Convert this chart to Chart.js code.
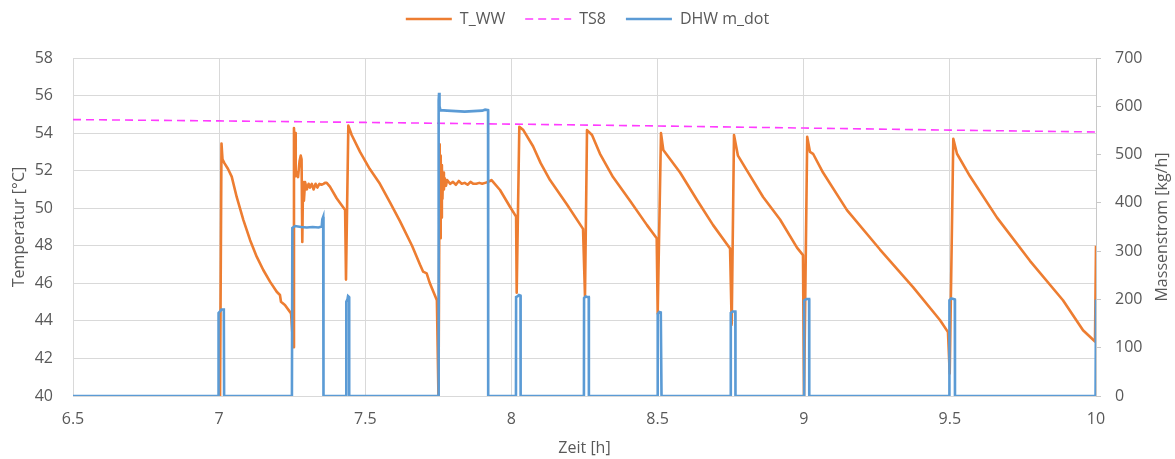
<!DOCTYPE html>
<html>
<head>
<meta charset="utf-8">
<script src="https://cdn.jsdelivr.net/npm/chart.js@4.4.1/dist/chart.umd.min.js"></script>
<style>
  html, body { margin: 0; padding: 0; background: #ffffff; }
  #wrap { width: 1175px; height: 459px; }
</style>
</head>
<body>
<div id="wrap"><canvas id="chart" width="1175" height="459"></canvas></div>
<script>
// Hot water outlet temperature T_WW [°C]
const wwHours = [
  7.003, 7.008, 7.0115, 7.018, 7.030, 7.043, 7.060, 7.083, 7.106, 7.1285, 7.151, 7.174, 7.197, 7.208, 7.2116, 7.225, 7.246,
  7.2535, 7.256, 7.258, 7.260, 7.262, 7.266, 7.270, 7.275, 7.279, 7.282, 7.2845, 7.287, 7.290, 7.294, 7.300, 7.306,
  7.311, 7.317, 7.323, 7.330, 7.336, 7.343, 7.350, 7.357, 7.362, 7.368, 7.379, 7.402, 7.431,
  7.434, 7.442, 7.4535, 7.482, 7.515, 7.550, 7.585, 7.619, 7.660, 7.687, 7.698, 7.710, 7.721, 7.745,
  7.7505, 7.7545, 7.756, 7.758, 7.760, 7.762, 7.764, 7.766, 7.769, 7.772, 7.776, 7.780, 7.790, 7.800, 7.810, 7.820,
  7.830, 7.840, 7.850, 7.860, 7.870, 7.880, 7.890, 7.900, 7.910, 7.920, 7.926, 7.932, 7.961, 7.995, 8.016,
  8.018, 8.027, 8.0407, 8.074, 8.100, 8.132, 8.190, 8.245,
  8.2517, 8.2586, 8.2757, 8.303, 8.3475, 8.4057, 8.4638, 8.497,
  8.5004, 8.5117, 8.5196, 8.577, 8.635, 8.690, 8.748,
  8.7536, 8.7615, 8.775, 8.806, 8.861, 8.919, 8.977, 8.9975,
  9.001, 9.012, 9.0215, 9.032, 9.066, 9.148, 9.261, 9.374, 9.466, 9.4936,
  9.4995, 9.5118, 9.5244, 9.569, 9.6613, 9.774, 9.887, 9.9556, 9.9966, 10.0
];
const wwTemp = [
  39.8, 53.45, 52.6, 52.4, 52.1, 51.68, 50.6, 49.37, 48.3, 47.42, 46.71, 46.09, 45.55, 45.38, 45.02, 44.85, 44.4,
  42.6, 54.27, 53.5, 54.0, 51.7, 51.9, 51.66, 52.5, 52.8, 52.6, 48.2, 51.4, 50.4, 51.4, 51.0, 51.3,
  51.1, 51.3, 51.0, 51.3, 51.1, 51.3, 51.25, 51.3, 51.35, 51.35, 51.15, 50.53, 49.9,
  46.2, 54.4, 53.9, 53.0, 52.1, 51.3, 50.3, 49.3, 48.0, 47.0, 46.62, 46.53, 46.0, 45.1,
  39.8, 53.4, 48.4, 52.8, 49.5, 52.3, 50.5, 51.9, 51.0, 51.6, 51.2, 51.5, 51.3, 51.4, 51.25, 51.45,
  51.3, 51.35, 51.25, 51.4, 51.3, 51.3, 51.35, 51.3, 51.35, 51.4, 51.45, 51.5, 50.97, 50.08, 49.55,
  45.5, 54.34, 54.16, 53.3, 52.4, 51.5, 50.2, 48.9,
  45.3, 54.16, 53.9, 52.9, 51.66, 50.4, 49.1, 48.4,
  44.4, 54.0, 53.1, 51.9, 50.44, 49.1, 47.86,
  43.8, 53.9, 52.8, 52.0, 50.6, 49.4, 47.9, 47.5,
  39.8, 53.8, 53.0, 52.9, 51.9, 49.9, 47.8, 45.8, 44.05, 43.4,
  41.2, 53.7, 52.9, 51.7, 49.5, 47.2, 45.1, 43.5, 42.9, 48.0
];

// Storage sensor TS8 [°C]
const ts8Hours = [6.5, 7.0, 7.5, 8.0, 8.5, 9.0, 9.5, 10.0];
const ts8Temp  = [54.72, 54.65, 54.57, 54.48, 54.38, 54.27, 54.16, 54.06];

// Domestic hot water draw-off mass flow [kg/h]
const flowHours = [
  6.5, 6.997, 6.998, 7.004, 7.008, 7.016, 7.017,
  7.249, 7.2505, 7.26, 7.28, 7.30, 7.32, 7.34, 7.351, 7.353, 7.356, 7.357,
  7.4345, 7.435, 7.439, 7.441, 7.4445, 7.445,
  7.7505, 7.751, 7.7525, 7.754, 7.757, 7.78, 7.81, 7.84, 7.87, 7.90, 7.91, 7.92, 7.9205,
  8.0155, 8.016, 8.022, 8.026, 8.031, 8.0315,
  8.248, 8.2485, 8.254, 8.259, 8.2645, 8.265,
  8.500, 8.5005, 8.506, 8.511, 8.5135,
  8.750, 8.7505, 8.757, 8.766, 8.7665,
  9.001, 9.0015, 9.010, 9.0185, 9.019,
  9.498, 9.4985, 9.505, 9.5125, 9.517, 9.5175,
  9.9985, 10.0
];
const flowRate = [
  0, 0, 172, 176, 179, 179, 0,
  0, 348, 352, 350, 349, 350, 349, 351, 366, 371, 0,
  0, 195, 200, 207, 205, 0,
  0, 612, 628, 600, 592, 591, 590, 589, 590, 591, 593, 592, 0,
  0, 205, 207, 209, 208, 0,
  0, 203, 206, 205, 205, 0,
  0, 170, 174, 173, 0,
  0, 172, 175, 175, 0,
  0, 198, 201, 201, 0,
  0, 198, 202, 201, 200, 0,
  0, 200
];

const tempRange = { min: 40, max: 58, step: 2 };
const flowRange = { min: 0, max: 700, step: 100 };
const timeRange = { min: 6.5, max: 10, step: 0.5 };

const toPoints = (xs, ys) => xs.map((x, i) => ({ x: x, y: ys[i] }));

const TEXT = '#595959';
const GRID = '#d9d9d9';
const FONT = { family: "'Open Sans', 'Noto Sans', sans-serif", size: 16 };
const TS8_DASH = [8, 5];

// Leaves a band of fixed height for the legend above the plot area.
const legendBand = {
  id: 'legendBand',
  beforeLayout(chart) {
    const lg = chart.legend;
    if (lg && !lg.__band) {
      const fit = lg.fit;
      lg.fit = function () { fit.call(this); this.height = 67; };
      lg.__band = true;
    }
  }
};

// Right axis title, written bottom-to-top like the left one.
const rightTitle = {
  id: 'rightTitle',
  afterDraw(chart) {
    const { ctx, chartArea } = chart;
    ctx.save();
    ctx.translate(1162, (chartArea.top + chartArea.bottom) / 2);
    ctx.rotate(-Math.PI / 2);
    ctx.font = `${FONT.size}px ${FONT.family}`;
    ctx.fillStyle = TEXT;
    ctx.textAlign = 'center';
    ctx.textBaseline = 'middle';
    ctx.fillText('Massenstrom [kg/h]', 0, 0);
    ctx.restore();
  }
};

new Chart(document.getElementById('chart'), {
  type: 'line',
  data: {
    datasets: [
      {
        label: 'T_WW',
        data: toPoints(wwHours, wwTemp),
        yAxisID: 'y',
        borderColor: '#ED7D31',
        backgroundColor: '#ED7D31',
        borderWidth: 2.6,
        borderJoinStyle: 'round',
        pointRadius: 0,
        tension: 0,
        order: 1
      },
      {
        label: 'TS8',
        data: toPoints(ts8Hours, ts8Temp),
        yAxisID: 'y',
        borderColor: '#FF3CFF',
        backgroundColor: '#FF3CFF',
        borderWidth: 1.6,
        borderDash: TS8_DASH,
        segment: { borderDash: () => TS8_DASH },
        pointRadius: 0,
        tension: 0,
        order: 2
      },
      {
        label: 'DHW m_dot',
        data: toPoints(flowHours, flowRate),
        yAxisID: 'y1',
        borderColor: '#5B9BD5',
        backgroundColor: '#5B9BD5',
        borderWidth: 2.6,
        pointRadius: 0,
        tension: 0,
        order: 0
      }
    ]
  },
  options: {
    responsive: false,
    animation: false,
    devicePixelRatio: 1,
    layout: { padding: { top: -9, left: 0, right: 0, bottom: 0 } },
    plugins: {
      tooltip: { enabled: false },
      legend: {
        position: 'top',
        align: 'center',
        labels: {
          color: TEXT,
          font: FONT,
          usePointStyle: true,
          pointStyle: 'line',
          pointStyleWidth: 46,
          padding: 20,
          sort: (a, b) => a.datasetIndex - b.datasetIndex,
          generateLabels(chart) {
            const items = Chart.defaults.plugins.legend.labels.generateLabels(chart);
            items.forEach((it) => {
              const ds = chart.data.datasets[it.datasetIndex];
              it.strokeStyle = ds.borderColor;
              it.fillStyle = ds.borderColor;
              it.lineWidth = ds.borderWidth;
              it.lineDash = ds.borderDash || [];
              it.pointStyle = 'line';
            });
            return items;
          }
        }
      }
    },
    scales: {
      x: {
        type: 'linear',
        min: timeRange.min,
        max: timeRange.max,
        afterFit: (s) => { s.height = 63; },
        ticks: {
          stepSize: timeRange.step,
          color: TEXT,
          font: FONT,
          padding: 14,
          maxRotation: 0,
          callback: (v) => String(v)
        },
        grid: { color: GRID, lineWidth: 1, drawTicks: false },
        border: { color: GRID },
        title: { display: true, text: 'Zeit [h]', color: TEXT, font: FONT, padding: { top: 0, bottom: 1 } }
      },
      y: {
        type: 'linear',
        position: 'left',
        min: tempRange.min,
        max: tempRange.max,
        afterFit: (s) => { s.width = 73; },
        ticks: { stepSize: tempRange.step, color: TEXT, font: FONT, padding: 20 },
        grid: { color: GRID, lineWidth: 1, drawTicks: false },
        border: { color: GRID },
        title: { display: true, text: 'Temperatur [°C]', color: TEXT, font: FONT, padding: { top: 10, bottom: 0 } }
      },
      y1: {
        type: 'linear',
        position: 'right',
        min: flowRange.min,
        max: flowRange.max,
        afterFit: (s) => { s.width = 79; },
        ticks: { stepSize: flowRange.step, color: TEXT, font: FONT, padding: 14 },
        grid: { drawOnChartArea: false, drawTicks: true, tickLength: 5, color: '#c8c8c8' },
        border: { color: '#c8c8c8' },
        title: { display: false }
      }
    }
  },
  plugins: [legendBand, rightTitle]
});
</script>
</body>
</html>
